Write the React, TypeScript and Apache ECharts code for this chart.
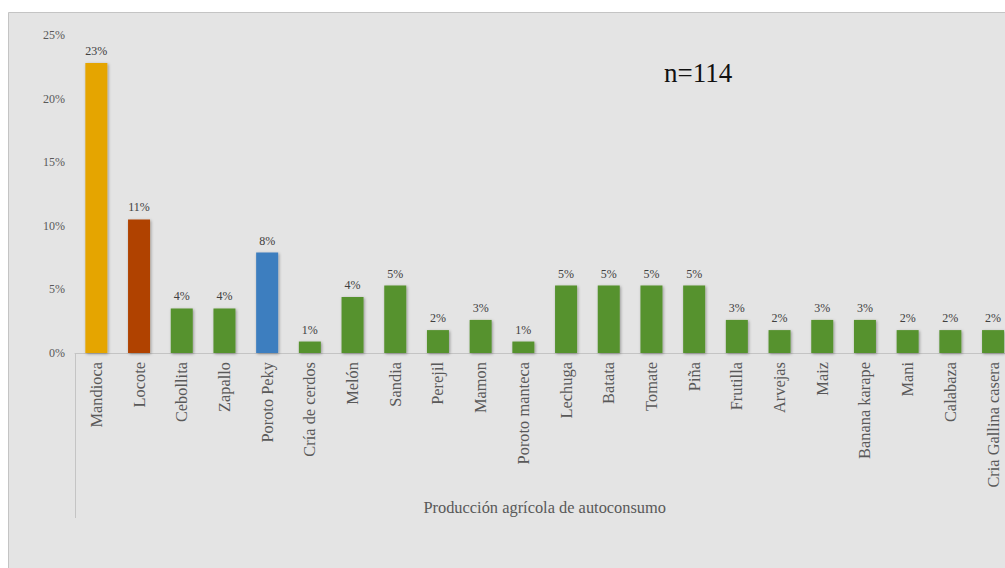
import React, { useEffect, useRef } from "react";
import * as echarts from "echarts";

const categories = [
  "Mandioca", "Locote", "Cebollita", "Zapallo", "Poroto Peky", "Cría de cerdos",
  "Melón", "Sandia", "Perejil", "Mamon", "Poroto manteca", "Lechuga", "Batata",
  "Tomate", "Piña", "Frutilla", "Arvejas", "Maiz", "Banana karape", "Mani",
  "Calabaza", "Cria Gallina casera",
];
// percentages (n=114)
const values = [
  22.8, 10.5, 3.5, 3.5, 7.9, 0.9, 4.4, 5.3, 1.8, 2.6, 0.9, 5.3, 5.3, 5.3, 5.3,
  2.6, 1.8, 2.6, 2.6, 1.8, 1.8, 1.8,
];
const barColors = [
  "#E5A500", "#B04200", "#56922F", "#56922F", "#3E7EBF", "#56922F", "#56922F",
  "#56922F", "#56922F", "#56922F", "#56922F", "#56922F", "#56922F", "#56922F",
  "#56922F", "#56922F", "#56922F", "#56922F", "#56922F", "#56922F", "#56922F",
  "#56922F",
];
const yTicks = { min: 0, max: 25, interval: 5 };
const sampleLabel = "n=114";
const xTitle = "Producción agrícola de autoconsumo";

const FONT = "Liberation Serif, Times New Roman, serif";
const CHART_W = 1030;

export default function App() {
  const ref = useRef<HTMLDivElement>(null);
  useEffect(() => {
    document.body.style.margin = "0";
    const chart = echarts.init(ref.current!, null, { renderer: "svg" });
    chart.setOption({
      animation: false,
      backgroundColor: "#ffffff",
      textStyle: { fontFamily: FONT },
      graphic: [
        {
          type: "rect",
          z: -10,
          shape: { x: 8.5, y: 12.5, width: 1030, height: 570 },
          style: { fill: "#e4e4e4", stroke: "#c4c4c4", lineWidth: 1 },
        },
        {
          type: "line",
          shape: { x1: 75.5, y1: 353, x2: 75.5, y2: 518 },
          style: { stroke: "#c4c4c4", lineWidth: 1 },
        },
        {
          type: "text",
          x: 664,
          y: 59,
          style: {
            text: sampleLabel,
            fontSize: 27,
            fontFamily: FONT,
            fill: "#111111",
          },
        },
      ],
      grid: { left: 75, top: 35, width: 939.4, bottom: 215 },
      xAxis: {
        type: "category",
        data: categories,
        axisLine: { show: true, lineStyle: { color: "#c4c4c4", width: 1 } },
        axisTick: { show: false },
        axisLabel: {
          interval: 0,
          rotate: 90,
          margin: 9,
          fontSize: 16.4,
          color: "#595959",
          fontFamily: FONT,
        },
        name: xTitle,
        nameLocation: "middle",
        nameGap: 146,
        nameTextStyle: { fontSize: 16.4, color: "#595959", fontFamily: FONT },
      },
      yAxis: {
        type: "value",
        min: yTicks.min,
        max: yTicks.max,
        interval: yTicks.interval,
        axisLine: { show: false },
        axisTick: { show: false },
        splitLine: { show: false },
        axisLabel: {
          formatter: "{value}%",
          margin: 10,
          fontSize: 12,
          color: "#595959",
          fontFamily: FONT,
        },
      },
      series: [
        {
          type: "bar",
          barWidth: 22,
          data: values.map((v, i) => ({
            value: v,
            itemStyle: {
              color: barColors[i],
              shadowBlur: 3,
              shadowColor: "rgba(0,0,0,0.35)",
              shadowOffsetX: 1,
              shadowOffsetY: 1,
            },
          })),
          label: {
            show: true,
            position: "top",
            distance: 6,
            fontSize: 12,
            color: "#404040",
            fontFamily: FONT,
            formatter: (p: any) => `${Math.round(p.value)}%`,
          },
        },
      ],
    });
    return () => chart.dispose();
  }, []);
  return (
    <div
      style={{
        position: "absolute",
        left: 0,
        top: 0,
        width: 1005,
        height: 568,
        overflow: "hidden",
      }}
    >
      <div ref={ref} style={{ width: CHART_W, height: 568 }} />
    </div>
  );
}
